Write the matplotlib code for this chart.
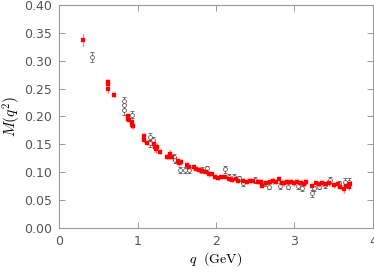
import matplotlib.pyplot as plt
import numpy as np

plt.rcParams["mathtext.fontset"] = "cm"

# red filled squares: q, M(q^2), error
red_q = [0.31, 0.62, 0.62, 0.62, 0.70, 0.88, 0.88, 0.89, 0.93, 0.93, 0.94,
         1.08, 1.08, 1.12, 1.21, 1.22, 1.24, 1.25, 1.28, 1.37, 1.40, 1.42,
         1.44, 1.51, 1.53, 1.55, 1.63, 1.66, 1.72, 1.75, 1.78, 1.82, 1.87,
         1.91, 1.95, 1.99, 2.02, 2.06, 2.12, 2.16, 2.20, 2.25, 2.28, 2.35,
         2.39, 2.43, 2.47, 2.53, 2.57, 2.59, 2.64, 2.69, 2.73, 2.76, 2.80,
         2.84, 2.87, 2.91, 2.95, 2.99, 3.03, 3.08, 3.12, 3.15, 3.22, 3.27,
         3.31, 3.35, 3.40, 3.44, 3.50, 3.55, 3.58, 3.63, 3.66, 3.69, 3.71]
red_m = [0.337, 0.262, 0.258, 0.249, 0.239, 0.200, 0.196, 0.194, 0.190, 0.185, 0.182,
         0.165, 0.157, 0.153, 0.150, 0.145, 0.141, 0.146, 0.137, 0.128, 0.128, 0.133,
         0.127, 0.120, 0.117, 0.118, 0.113, 0.109, 0.109, 0.106, 0.104, 0.102, 0.100,
         0.097, 0.097, 0.092, 0.090, 0.091, 0.091, 0.088, 0.086, 0.087, 0.085, 0.085,
         0.083, 0.085, 0.084, 0.083, 0.083, 0.076, 0.080, 0.082, 0.084, 0.083, 0.087,
         0.080, 0.081, 0.082, 0.083, 0.080, 0.082, 0.081, 0.079, 0.082, 0.076, 0.080,
         0.078, 0.081, 0.079, 0.080, 0.077, 0.079, 0.074, 0.069, 0.076, 0.074, 0.078]
red_err = [0.010, 0.005, 0.005, 0.007, 0.004, 0.005, 0.005, 0.004, 0.005, 0.006, 0.005,
           0.005, 0.005, 0.005, 0.006, 0.008, 0.006, 0.006, 0.004, 0.004, 0.004, 0.006,
           0.004, 0.005, 0.005, 0.005, 0.005, 0.004, 0.004, 0.004, 0.005, 0.004, 0.004,
           0.005, 0.004, 0.004, 0.004, 0.004, 0.004, 0.004, 0.004, 0.005, 0.004, 0.004,
           0.004, 0.004, 0.004, 0.004, 0.004, 0.004, 0.005, 0.005, 0.005, 0.005, 0.005,
           0.005, 0.005, 0.005, 0.005, 0.005, 0.005, 0.005, 0.005, 0.005, 0.005, 0.005,
           0.005, 0.005, 0.005, 0.005, 0.005, 0.005, 0.005, 0.006, 0.005, 0.006, 0.005]

# black open circles
blk_q = [0.42, 0.83, 0.83, 0.83, 0.93, 1.16, 1.16, 1.20, 1.46, 1.48, 1.545,
         1.61, 1.66, 1.82, 1.88, 2.11, 2.16, 2.23, 2.29, 2.34, 2.50, 2.63,
         2.67, 2.81, 2.92, 3.04, 3.10, 3.23, 3.25, 3.31, 3.39, 3.45, 3.57,
         3.64, 3.69]
blk_m = [0.307, 0.227, 0.220, 0.212, 0.203, 0.164, 0.152, 0.158, 0.127, 0.122, 0.104,
         0.104, 0.104, 0.104, 0.107, 0.105, 0.092, 0.091, 0.089, 0.080, 0.086, 0.080,
         0.074, 0.075, 0.074, 0.075, 0.071, 0.062, 0.071, 0.074, 0.077, 0.086, 0.080,
         0.083, 0.083]
blk_err = [0.009, 0.007, 0.007, 0.010, 0.006, 0.006, 0.006, 0.006, 0.005, 0.005, 0.005,
           0.005, 0.005, 0.005, 0.005, 0.006, 0.005, 0.005, 0.005, 0.005, 0.005, 0.005,
           0.005, 0.005, 0.005, 0.005, 0.005, 0.006, 0.005, 0.005, 0.005, 0.005, 0.005,
           0.006, 0.006]

fig = plt.figure(figsize=(3.74, 2.73), dpi=100)
ax = fig.add_axes([0.158, 0.165, 0.839, 0.817])

ax.errorbar(blk_q, blk_m, yerr=blk_err, fmt="o", ms=2.8, mfc="white", mec="#444444",
            mew=0.5, ecolor="#444444", elinewidth=0.5, capsize=1.5, capthick=0.5, zorder=2)
ax.errorbar(red_q, red_m, yerr=red_err, fmt="s", ms=3.2, mfc="red", mec="red",
            mew=0.2, ecolor="#ff8080", elinewidth=0.8, capsize=1.6, capthick=0.8, zorder=3)

ax.set_xlim(0, 4)
ax.set_ylim(0, 0.40)
ax.set_xticks([0, 1, 2, 3, 4])
ax.set_yticks(np.arange(0, 0.41, 0.05))
ax.set_yticklabels([f"{v:.2f}" for v in np.arange(0, 0.41, 0.05)])

for s in ax.spines.values():
    s.set_color("#999999")
    s.set_linewidth(0.8)
ax.tick_params(direction="in", length=4, width=0.7, color="#999999",
               labelsize=9, labelcolor="#555555", top=True, right=True, pad=5)

ax.set_xlabel(r"$q\ \ \mathrm{(GeV)}$", fontsize=10, labelpad=2)
ax.set_ylabel(r"$M(q^2)$", fontsize=11, labelpad=1)

fig.savefig("out.png", dpi=100)
